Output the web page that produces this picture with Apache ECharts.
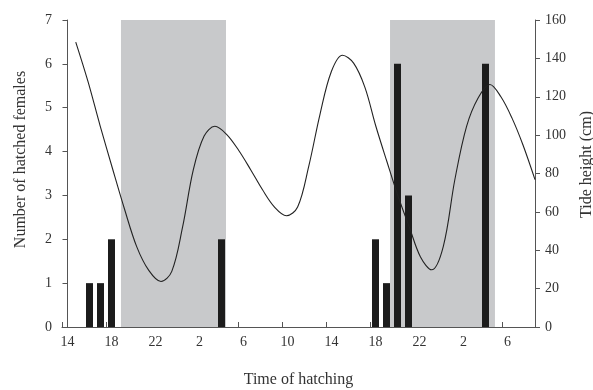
<!DOCTYPE html>
<html>
<head>
<meta charset="utf-8">
<script src="https://cdn.jsdelivr.net/npm/echarts@6/dist/echarts.min.js"></script>
<style>html,body{margin:0;padding:0;background:#fff}#c{width:593px;height:390px}</style>
</head>
<body>
<div id="c"></div>
<script>
// hourly categories (time of hatching), from 14:00 day 1 to 08:00 day 3
var hours = ['14','15','16','17','18','19','20','21','22','23',
  '0','1','2','3','4','5','6','7','8','9','10','11','12','13','14','15','16','17','18','19','20','21','22','23',
  '0','1','2','3','4','5','6','7','8'];
// number of hatched females per hour
var females = [0,0,1,1,2,0,0,0,0,0,
  0,0,0,0,2,0,0,0,0,0,0,0,0,0,0,0,0,0,2,1,6,3,0,0,
  0,0,0,0,6,0,0,0,0];
// tide curve: time (hours after 14:00 day 1) and height (cm)
var tideTime = [0.75,1.86,2.96,4.07,5.18,6.29,7.39,8.5,
  9.48,10.46,11.44,12.42,13.4,
  14.48,15.57,16.65,17.73,18.82,19.9,
  20.92,21.94,22.96,23.98,25,
  26.01,27.03,28.04,29.05,30.06,31.08,32.09,33.1,
  34.16,35.22,36.28,37.34,38.4,
  39.4,40.4,41.4,42.5];
var tideHeight = [148.5,128,105,83,61.5,41.9,29.5,23.7,
  29,52,82,99.5,104.6,
  100.3,92,82,71.5,62.5,58,
  62.5,84,111,133,141.6,
  137.5,125,104.5,86,68,52,36.5,29.8,
  41.9,77,104.6,119.5,126.4,
  120,109,95,76.8];
// night (shaded) periods, same time units
var nightStart = [4.86, 29.32];
var nightEnd = [14.41, 38.86];

var tide = tideTime.map(function (t, i) { return [t, tideHeight[i]]; });
var night = nightStart.map(function (s, i) { return [{xAxis: s}, {xAxis: nightEnd[i]}]; });

var font = 'Liberation Serif';
var axisCol = '#555';
var txtCol = '#333';
var chart = echarts.init(document.getElementById('c'), null, {renderer: 'canvas'});
chart.setOption({
  animation: false,
  backgroundColor: '#fff',
  textStyle: {fontFamily: font},
  grid: {left: 62, right: 58, top: 20, bottom: 63, containLabel: false, outerBoundsMode: 'none'},
  xAxis: [{
    type: 'category', data: hours, boundaryGap: true,
    name: 'Time of hatching', nameLocation: 'middle', nameGap: 45,
    nameTextStyle: {fontFamily: font, fontSize: 16, color: txtCol},
    axisLine: {lineStyle: {color: axisCol, width: 1}},
    axisTick: {show: true, interval: 3, inside: true, length: 5, lineStyle: {color: axisCol}},
    axisLabel: {interval: 3, margin: 8, fontFamily: font, fontSize: 14, color: txtCol},
    splitLine: {show: false}
  }, {
    type: 'value', min: -0.5, max: 42.5, show: false
  }],
  yAxis: [{
    type: 'value', min: 0, max: 7, interval: 1, position: 'left',
    name: 'Number of hatched females', nameLocation: 'middle', nameGap: 33, nameRotate: 90,
    nameTextStyle: {fontFamily: font, fontSize: 16, color: txtCol, padding: [0, 0, 0, 28]},
    axisLine: {show: true, lineStyle: {color: axisCol}},
    axisTick: {show: true, length: 5, lineStyle: {color: axisCol}},
    axisLabel: {margin: 10, fontFamily: font, fontSize: 14, color: txtCol},
    splitLine: {show: false}
  }, {
    type: 'value', min: 0, max: 160, interval: 20, position: 'right',
    name: 'Tide height (cm)', nameLocation: 'middle', nameGap: 44, nameRotate: 90,
    nameTextStyle: {fontFamily: font, fontSize: 16, color: txtCol, padding: [0, 0, 0, 18]},
    axisLine: {show: true, lineStyle: {color: axisCol}},
    axisTick: {show: true, length: 5, lineStyle: {color: axisCol}},
    axisLabel: {margin: 10, fontFamily: font, fontSize: 14, color: txtCol},
    splitLine: {show: false}
  }],
  series: [{
    type: 'bar', name: 'females', data: females, xAxisIndex: 0, yAxisIndex: 0,
    barWidth: 7, z: 2,
    itemStyle: {color: '#1c1c1c'}
  }, {
    type: 'line', name: 'tide', data: tide, xAxisIndex: 1, yAxisIndex: 1,
    smooth: 0.35, symbol: 'none', z: 3,
    lineStyle: {color: '#222', width: 1.1},
    markArea: {silent: true, itemStyle: {color: '#c8c9cb'}, data: night}
  }]
});
</script>
</body>
</html>
